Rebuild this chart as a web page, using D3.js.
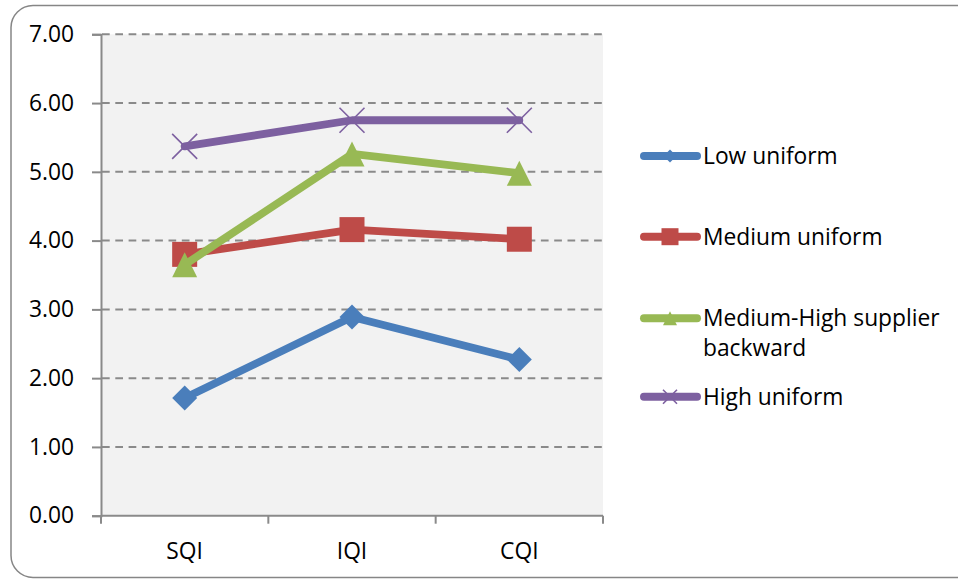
<!DOCTYPE html>
<html>
<head>
<meta charset="utf-8">
<script src="https://cdn.jsdelivr.net/npm/d3@7"></script>
<style>
  html, body { margin: 0; padding: 0; background: #fff; }
  svg { display: block; }
  text { font-family: "Open Sans", "Noto Sans", sans-serif; fill: #000; }
</style>
</head>
<body>
<svg id="chart" width="958" height="580"></svg>
<script>
// Quality indices on the x axis
const categories = ["SQI", "IQI", "CQI"];

// Mean scores per supplier group
const lowUniform = [1.71, 2.89, 2.27];
const mediumUniform = [3.80, 4.16, 4.02];
const mediumHighBackward = [3.65, 5.26, 4.98];
const highUniform = [5.37, 5.75, 5.75];

const seriesNames = ["Low uniform", "Medium uniform", "Medium-High supplier backward", "High uniform"];
const yTicks = [0, 1, 2, 3, 4, 5, 6, 7];

const series = [
  { name: seriesNames[0], values: lowUniform, color: "#4A7EBB", marker: "diamond", legendLines: ["Low uniform"] },
  { name: seriesNames[1], values: mediumUniform, color: "#BE4B48", marker: "square", legendLines: ["Medium uniform"] },
  { name: seriesNames[2], values: mediumHighBackward, color: "#98B954", marker: "triangle", legendLines: ["Medium-High supplier", "backward"] },
  { name: seriesNames[3], values: highUniform, color: "#7D60A0", marker: "cross", legendLines: ["High uniform"] }
];

const svg = d3.select("#chart");

// Outer chart frame with rounded corners
svg.append("rect")
  .attr("x", 11).attr("y", 5.5)
  .attr("width", 975).attr("height", 572)
  .attr("rx", 22).attr("ry", 22)
  .attr("fill", "#fff")
  .attr("stroke", "#868686").attr("stroke-width", 1.5);

const plot = { left: 101, right: 603, top: 34.3, bottom: 515.7 };

const x = d3.scaleBand().domain(categories).range([plot.left, plot.right]).padding(0);
const y = d3.scaleLinear().domain([0, 7]).range([plot.bottom, plot.top]);

// Plot area background
svg.append("rect")
  .attr("x", plot.left).attr("y", plot.top)
  .attr("width", plot.right - plot.left).attr("height", plot.bottom - plot.top)
  .attr("fill", "#F2F2F2");

const gridColor = "#8A8A8A";
const dash = "7.7,5.6";

// Dashed horizontal gridlines
svg.append("g")
  .selectAll("line")
  .data(yTicks.filter(d => d > 0))
  .join("line")
  .attr("x1", plot.left + 1).attr("x2", plot.right)
  .attr("y1", d => y(d)).attr("y2", d => y(d))
  .attr("stroke", gridColor).attr("stroke-width", 2)
  .attr("stroke-dasharray", dash);

// Y axis
const yAxis = svg.append("g")
  .attr("transform", `translate(${plot.left},0)`)
  .call(d3.axisLeft(y).tickValues(yTicks).tickFormat(d3.format(".2f")).tickSize(9).tickPadding(18));
yAxis.select(".domain").attr("stroke", gridColor).attr("stroke-width", 2);
yAxis.selectAll(".tick line").attr("stroke", gridColor).attr("stroke-width", 2);
yAxis.selectAll(".tick text")
  .attr("font-size", 22.8)
  .attr("font-family", "'Open Sans', sans-serif")
  .attr("fill", "#000");

// X axis with ticks at band boundaries
const xAxisG = svg.append("g").attr("transform", `translate(0,${plot.bottom})`);
xAxisG.append("line")
  .attr("x1", plot.left).attr("x2", plot.right)
  .attr("y1", 0).attr("y2", 0)
  .attr("stroke", gridColor).attr("stroke-width", 2);
const bounds = categories.map(c => x(c)).concat([x(categories[categories.length - 1]) + x.bandwidth()]);
xAxisG.selectAll("line.tick")
  .data(bounds)
  .join("line")
  .attr("class", "tick")
  .attr("x1", d => d).attr("x2", d => d)
  .attr("y1", 0).attr("y2", 8)
  .attr("stroke", gridColor).attr("stroke-width", 2);
xAxisG.selectAll("text")
  .data(categories)
  .join("text")
  .attr("x", d => x(d) + x.bandwidth() / 2)
  .attr("y", 43)
  .attr("text-anchor", "middle")
  .attr("font-size", 22.8)
  .text(d => d);

const cx = c => x(c) + x.bandwidth() / 2;

function drawMarker(g, type, px, py, size, color) {
  const h = size / 2;
  if (type === "diamond") {
    g.append("path")
      .attr("d", `M${px},${py - h}L${px + h},${py}L${px},${py + h}L${px - h},${py}Z`)
      .attr("fill", color);
  } else if (type === "square") {
    g.append("rect")
      .attr("x", px - h).attr("y", py - h)
      .attr("width", size).attr("height", size)
      .attr("fill", color);
  } else if (type === "triangle") {
    g.append("path")
      .attr("d", `M${px},${py - h}L${px + h},${py + h}L${px - h},${py + h}Z`)
      .attr("fill", color);
  } else if (type === "cross") {
    g.append("path")
      .attr("d", `M${px - h},${py - h}L${px + h},${py + h}M${px + h},${py - h}L${px - h},${py + h}`)
      .attr("stroke", color).attr("stroke-width", 1.6).attr("fill", "none");
  }
}

const line = d3.line().x((d, i) => cx(categories[i])).y(d => y(d));

const seriesG = svg.append("g");
series.forEach(s => {
  const g = seriesG.append("g");
  g.append("path")
    .attr("d", line(s.values))
    .attr("fill", "none")
    .attr("stroke", s.color)
    .attr("stroke-width", 7.8)
    .attr("stroke-linejoin", "round")
    .attr("stroke-linecap", "round");
  s.values.forEach((v, i) => drawMarker(g, s.marker, cx(categories[i]), y(v), 25, s.color));
});

// Legend
const legendRows = [156, 236.7, 318.3, 396.7];
const legend = svg.append("g");
series.forEach((s, i) => {
  const ly = legendRows[i];
  const g = legend.append("g");
  g.append("line")
    .attr("x1", 644).attr("x2", 697)
    .attr("y1", ly).attr("y2", ly)
    .attr("stroke", s.color).attr("stroke-width", 8)
    .attr("stroke-linecap", "round");
  const msize = s.marker === "square" ? 17 : (s.marker === "diamond" ? 13 : 14);
  drawMarker(g, s.marker, 670, ly, msize, s.color);
  s.legendLines.forEach((t, j) => {
    g.append("text")
      .attr("x", 703)
      .attr("y", ly + 8 + j * 30)
      .attr("font-size", 22.8)
      .text(t);
  });
});
</script>
</body>
</html>
